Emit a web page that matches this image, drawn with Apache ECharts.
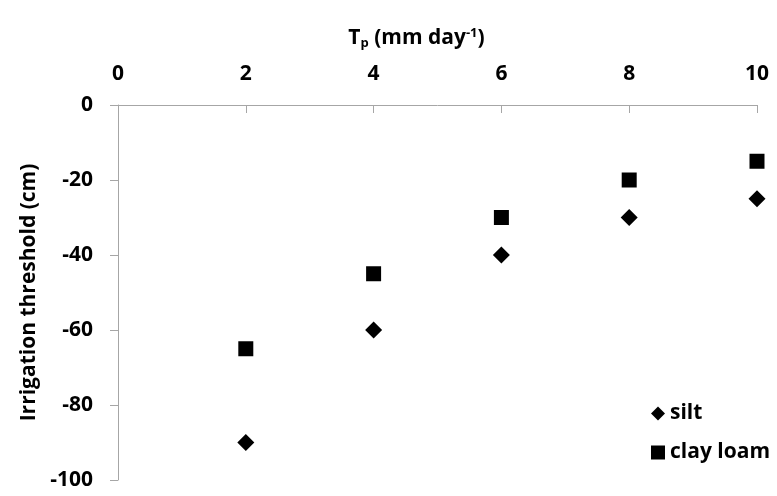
<!DOCTYPE html>
<html>
<head>
<meta charset="utf-8">
<script src="https://cdn.jsdelivr.net/npm/echarts@6/dist/echarts.min.js"></script>
<style>
  html, body { margin: 0; padding: 0; background: #fff; }
  #chart { width: 777px; height: 496px; }
</style>
</head>
<body>
<div id="chart"></div>
<script>
// Transpiration rate (mm/day) on the x axis
const tpValues = [2, 4, 6, 8, 10];
// Irrigation threshold (cm) per soil type
const siltThreshold = [-90, -60, -40, -30, -25];
const clayLoamThreshold = [-65, -45, -30, -20, -15];
const seriesNames = ['silt', 'clay loam'];

const FONT = '"Open Sans", "DejaVu Sans", sans-serif';
const AXIS_GREY = '#a6a6a6';
const FS = 21;

const toPairs = (xs, ys) => xs.map((x, i) => [x, ys[i]]);

const chart = echarts.init(document.getElementById('chart'));
chart.setOption({
  animation: false,
  backgroundColor: '#ffffff',
  grid: { left: 118, right: 20, top: 105, bottom: 16, containLabel: false },
  legend: {
    orient: 'vertical',
    right: 2,
    bottom: 28,
    itemGap: 18,
    itemWidth: 14,
    itemHeight: 14,
    textStyle: { fontFamily: FONT, fontWeight: 'bold', fontSize: FS, color: '#000' },
    data: [
      { name: seriesNames[0], icon: 'diamond' },
      { name: seriesNames[1], icon: 'rect' }
    ]
  },
  xAxis: {
    type: 'value',
    position: 'top',
    min: 0, max: 10, interval: 2,
    name: '{b|T}{sub|p}{b| (mm day}{sup|-1}{b|)}',
    nameLocation: 'middle',
    nameGap: 55,
    nameTextStyle: {
      padding: [0, 42, 0, 0],
      rich: {
        b: { fontFamily: FONT, fontWeight: 'bold', fontSize: FS, color: '#000' },
        sub: { fontFamily: FONT, fontWeight: 'bold', fontSize: 13, color: '#000', verticalAlign: 'bottom', padding: [10, 0, 0, 0] },
        sup: { fontFamily: FONT, fontWeight: 'bold', fontSize: 13, color: '#000', verticalAlign: 'top', padding: [0, 0, 10, 0] }
      }
    },
    axisLine: { show: true, onZero: false, lineStyle: { color: AXIS_GREY, width: 1 } },
    axisTick: { show: true, inside: true, length: 8, lineStyle: { color: AXIS_GREY } },
    axisLabel: { margin: 20, fontFamily: FONT, fontWeight: 'bold', fontSize: FS, color: '#000' },
    splitLine: { show: false }
  },
  yAxis: {
    type: 'value',
    min: -100, max: 0, interval: 20,
    name: 'Irrigation threshold (cm)',
    nameLocation: 'middle',
    nameGap: 74,
    nameRotate: 90,
    nameTextStyle: { fontFamily: FONT, fontWeight: 'bold', fontSize: FS, color: '#000' },
    axisLine: { show: true, onZero: false, lineStyle: { color: AXIS_GREY, width: 1 } },
    axisTick: { show: true, inside: false, length: 8, lineStyle: { color: AXIS_GREY } },
    axisLabel: { margin: 25, fontFamily: FONT, fontWeight: 'bold', fontSize: FS, color: '#000' },
    splitLine: { show: false }
  },
  series: [
    {
      name: seriesNames[0],
      type: 'scatter',
      symbol: 'diamond',
      symbolSize: 17,
      itemStyle: { color: '#000', opacity: 1 },
      data: toPairs(tpValues, siltThreshold)
    },
    {
      name: seriesNames[1],
      type: 'scatter',
      symbol: 'rect',
      symbolSize: 15,
      itemStyle: { color: '#000', opacity: 1 },
      data: toPairs(tpValues, clayLoamThreshold)
    }
  ]
});
</script>
</body>
</html>
